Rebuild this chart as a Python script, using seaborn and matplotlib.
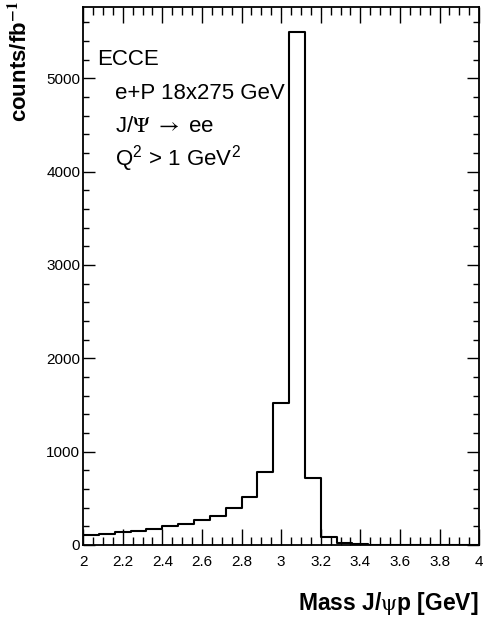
import numpy as np
import pandas as pd
import matplotlib
matplotlib.use("Agg")
import matplotlib.pyplot as plt
from matplotlib.ticker import MultipleLocator, FuncFormatter
import seaborn as sns

# J/psi p invariant mass, 25 bins from 2 to 4 GeV (width 0.08)
bin_lo = 2.0
bin_hi = 4.0
n_bins = 25
counts = [108, 122, 134, 145, 169, 201, 220, 270, 309, 397, 515, 785, 1520,
          5490, 716, 85, 22, 11, 4, 3, 2, 1, 1, 1, 0]
x_major = [2.0, 2.2, 2.4, 2.6, 2.8, 3.0, 3.2, 3.4, 3.6, 3.8, 4.0]
y_major = [0, 1000, 2000, 3000, 4000, 5000]
info_lines = ["e+P 18x275 GeV", r"J/$\Psi$ $\rightarrow$ ee",
              r"Q$^{\mathregular{2}}$ > 1 GeV$^{\mathregular{2}}$"]

sns.set_style("ticks")
plt.rcParams["font.family"] = ["Liberation Sans", "DejaVu Sans"]
plt.rcParams["mathtext.fontset"] = "stix"

edges = np.linspace(bin_lo, bin_hi, n_bins + 1)
df = pd.DataFrame({"mass": 0.5 * (edges[:-1] + edges[1:]), "counts": counts})

fig = plt.figure(figsize=(4.86, 6.2), dpi=100)
ax = fig.add_axes([0.171, 0.121, 0.815, 0.868])

sns.histplot(data=df, x="mass", weights="counts", bins=n_bins,
             binrange=(bin_lo, bin_hi), element="step",
             fill=False, color="black", linewidth=1.5, ax=ax)

ax.set_xlim(bin_lo, bin_hi)
ax.set_ylim(0, max(counts) * 1.05)
ax.set_xticks(x_major)
ax.set_yticks(y_major)
ax.xaxis.set_minor_locator(MultipleLocator(0.05))
ax.yaxis.set_minor_locator(MultipleLocator(200))
ax.xaxis.set_major_formatter(FuncFormatter(lambda v, p: f"{v:g}"))

ax.tick_params(axis="both", which="both", direction="in", top=True, right=True,
               labelsize=11, width=1.0, color="black", labelcolor="black")
ax.tick_params(axis="x", which="major", length=11.5, pad=7)
ax.tick_params(axis="x", which="minor", length=5.8)
ax.tick_params(axis="y", which="major", length=8.6, pad=2)
ax.tick_params(axis="y", which="minor", length=4.3)
for s in ax.spines.values():
    s.set_linewidth(1.3)
    s.set_color("black")

ax.set_xlabel("")
ax.set_ylabel("")
fig.text(0.984, 1 - 610 / 620, r"Mass J/$\mathrm{\psi}$p [GeV]", ha="right",
         va="baseline", fontsize=16.5, fontweight="bold", color="black")
fig.text(0.042, 0.998, r"counts/fb$^{\mathbf{-1}}$", ha="center", va="top",
         rotation=90, fontsize=16, fontweight="bold", color="black")

fig.text(97 / 486, 1 - 65 / 620, "ECCE", fontsize=16, va="baseline",
         color="black")
for i, line in enumerate(info_lines):
    fig.text(115 / 486, 1 - (99 + 33.3 * i) / 620, line, fontsize=16,
             va="baseline", color="black")

fig.savefig("out.png", dpi=100)
